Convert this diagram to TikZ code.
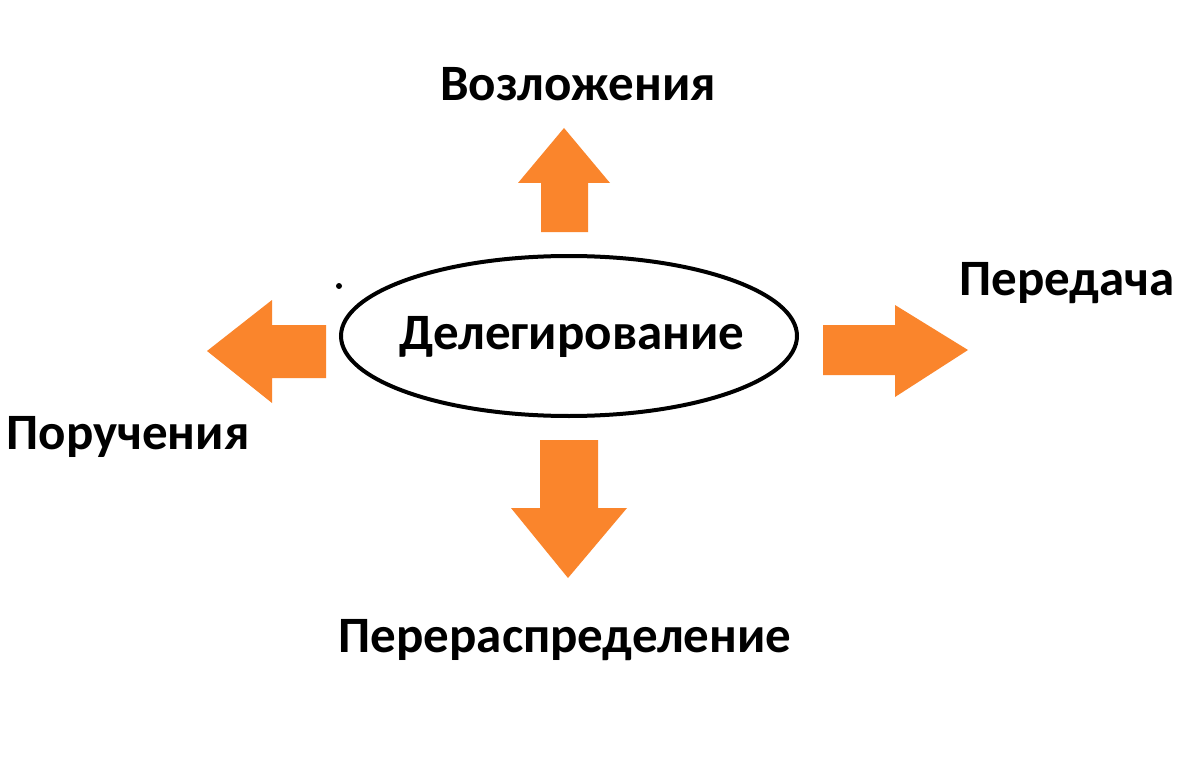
\documentclass[tikz,border=0pt]{standalone}
\usepackage{fontspec}
\setmainfont{Carlito}
\usepackage{tikz}
\usetikzlibrary{shapes.geometric}
\definecolor{arroworange}{HTML}{FA852C}

\tikzset{
  blockarrow/.style={fill=arroworange, draw=none},
  label/.style={font=\fontsize{51}{55}\selectfont\bfseries, inner sep=0pt, anchor=center}
}

\begin{document}
\begin{tikzpicture}[x=1pt, y=-1pt]
  \useasboundingbox[fill=white] (0,0) rectangle (1200,781);
  \node[ellipse, draw, line width=4pt, minimum width=456pt, minimum height=160pt, inner sep=0pt]
    (deleg) at (569,336) {};
  \node[label] (delegtext) at (572,337) {Делегирование};
  % стрелки
  \fill[blockarrow] (541,232) -- (541,183) -- (518,183) -- (564,128) -- (610,183) -- (588,183) -- (588,232) -- cycle;
  \fill[blockarrow] (823,325) -- (895,325) -- (895,305) -- (968,350) -- (895,397) -- (895,375) -- (823,375) -- cycle;
  \fill[blockarrow] (326,325) -- (272,325) -- (272,300) -- (207,351) -- (272,403) -- (272,378) -- (326,378) -- cycle;
  \fill[blockarrow] (540,440) -- (540,508) -- (511,508) -- (568,578) -- (627,508) -- (598,508) -- (598,440) -- cycle;
  \fill (339,286) circle (3pt);
  % подписи
  \node[label] (vozl) at (578,84) {Возложения};
  \node[label] (pered) at (1067,283) {Передача};
  \node[label] (poruch) at (128,437) {Поручения};
  \node[label] (pererasp) at (565,640) {Перераспределение};
\end{tikzpicture}
\end{document}
